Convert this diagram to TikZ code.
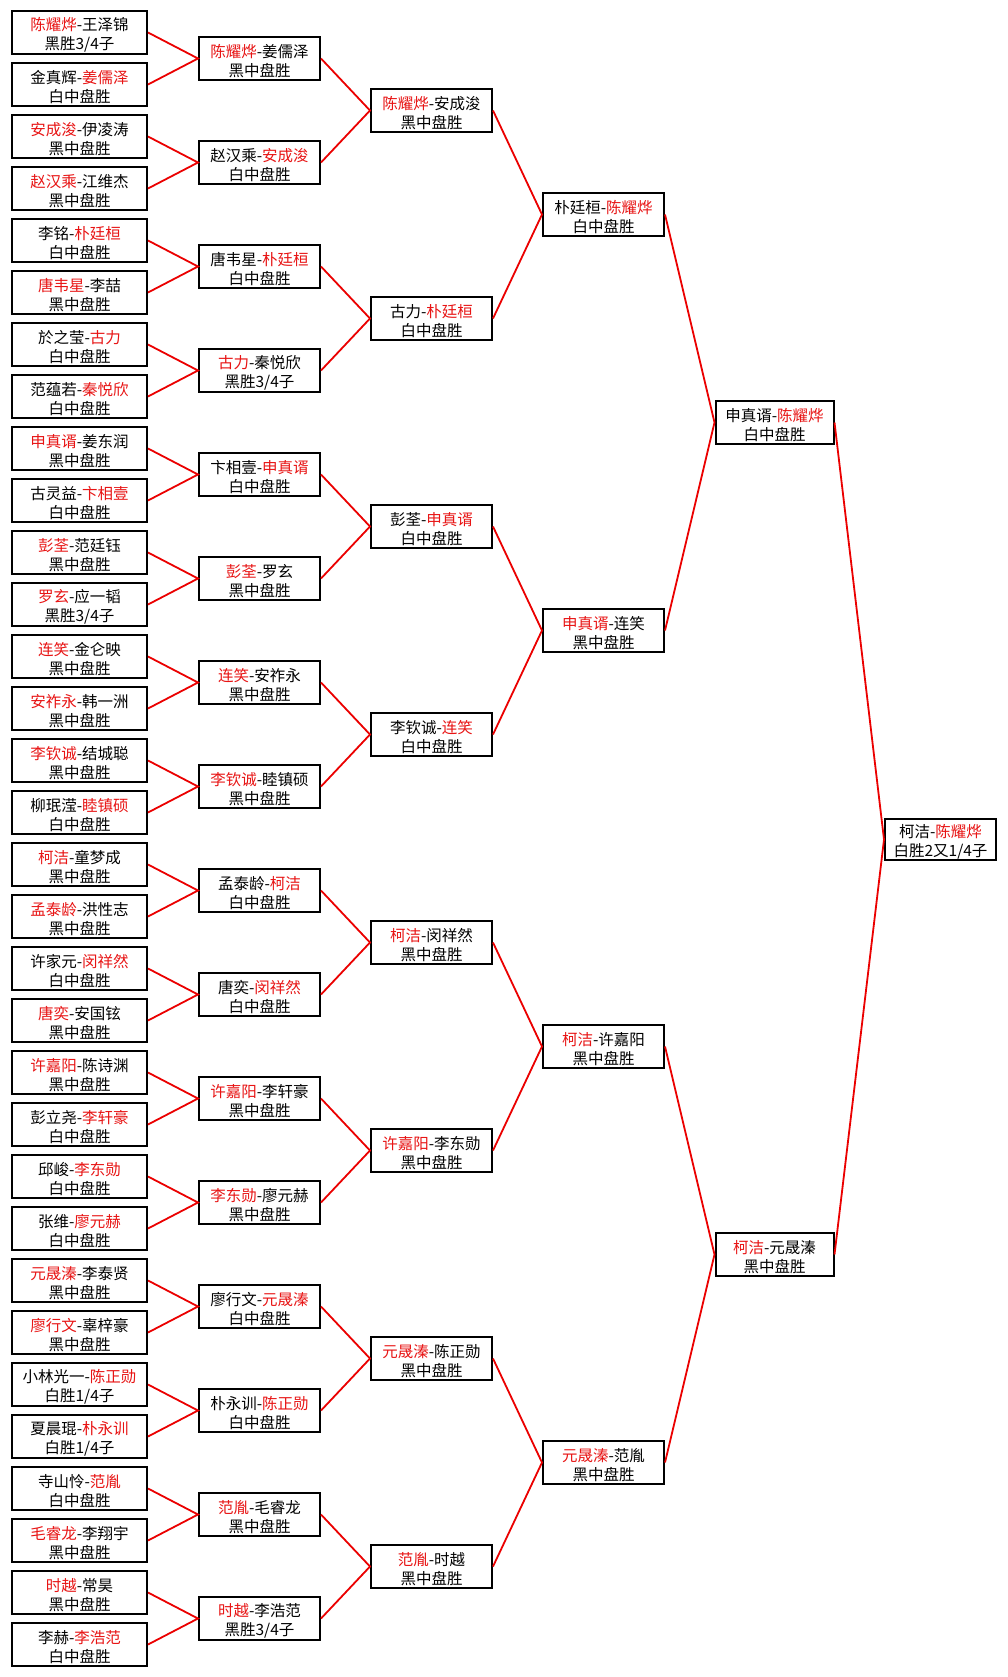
\documentclass[tikz,border=0pt]{standalone}
\usepackage{fontspec}
\setmainfont{Noto Sans CJK SC}
\definecolor{wred}{RGB}{232,20,20}
\definecolor{lred}{RGB}{235,0,0}
\newcommand\rd[1]{\textcolor{wred}{#1}}
\newcommand\bx[6]{\node[#2] (#1) at (#3,#4) {\rule{0pt}{18.5pt}#5\\#6};}
\tikzset{
  box/.style={draw=black, line width=2pt, fill=white, inner sep=0pt,
    minimum height=43pt, align=center, font=\fontsize{15.5}{19}\selectfont},
  ra/.style={box, minimum width=135pt},
  rb/.style={box, minimum width=121pt},
  rc/.style={box, minimum width=118pt},
  rf/.style={box, minimum width=111pt, minimum height=41pt},
  link/.style={draw=lred, line width=1.8pt}
}
\begin{document}
\begin{tikzpicture}[x=1pt,y=-1pt]
\path[use as bounding box, fill=white] (0,0) rectangle (1007,1677);
% Round 1
\bx{a1}{ra}{79.5}{32.5}{\rd{陈耀烨}-王泽锦}{黑胜3/4子}
\bx{a2}{ra}{79.5}{84.5}{金真辉-\rd{姜儒泽}}{白中盘胜}
\bx{a3}{ra}{79.5}{136.5}{\rd{安成浚}-伊凌涛}{黑中盘胜}
\bx{a4}{ra}{79.5}{188.5}{\rd{赵汉乘}-江维杰}{黑中盘胜}
\bx{a5}{ra}{79.5}{240.5}{李铭-\rd{朴廷桓}}{白中盘胜}
\bx{a6}{ra}{79.5}{292.5}{\rd{唐韦星}-李喆}{黑中盘胜}
\bx{a7}{ra}{79.5}{344.5}{於之莹-\rd{古力}}{白中盘胜}
\bx{a8}{ra}{79.5}{396.5}{范蕴若-\rd{秦悦欣}}{白中盘胜}
\bx{a9}{ra}{79.5}{448.5}{\rd{申真谞}-姜东润}{黑中盘胜}
\bx{a10}{ra}{79.5}{500.5}{古灵益-\rd{卞相壹}}{白中盘胜}
\bx{a11}{ra}{79.5}{552.5}{\rd{彭荃}-范廷钰}{黑中盘胜}
\bx{a12}{ra}{79.5}{604.5}{\rd{罗玄}-应一韬}{黑胜3/4子}
\bx{a13}{ra}{79.5}{656.5}{\rd{连笑}-金仑映}{黑中盘胜}
\bx{a14}{ra}{79.5}{708.5}{\rd{安祚永}-韩一洲}{黑中盘胜}
\bx{a15}{ra}{79.5}{760.5}{\rd{李钦诚}-结城聪}{黑中盘胜}
\bx{a16}{ra}{79.5}{812.5}{柳珉滢-\rd{睦镇硕}}{白中盘胜}
\bx{a17}{ra}{79.5}{864.5}{\rd{柯洁}-童梦成}{黑中盘胜}
\bx{a18}{ra}{79.5}{916.5}{\rd{孟泰龄}-洪性志}{黑中盘胜}
\bx{a19}{ra}{79.5}{968.5}{许家元-\rd{闵祥然}}{白中盘胜}
\bx{a20}{ra}{79.5}{1020.5}{\rd{唐奕}-安国铉}{黑中盘胜}
\bx{a21}{ra}{79.5}{1072.5}{\rd{许嘉阳}-陈诗渊}{黑中盘胜}
\bx{a22}{ra}{79.5}{1124.5}{彭立尧-\rd{李轩豪}}{白中盘胜}
\bx{a23}{ra}{79.5}{1176.5}{邱峻-\rd{李东勋}}{白中盘胜}
\bx{a24}{ra}{79.5}{1228.5}{张维-\rd{廖元赫}}{白中盘胜}
\bx{a25}{ra}{79.5}{1280.5}{\rd{元晟溱}-李泰贤}{黑中盘胜}
\bx{a26}{ra}{79.5}{1332.5}{\rd{廖行文}-辜梓豪}{黑中盘胜}
\bx{a27}{ra}{79.5}{1384.5}{小林光一-\rd{陈正勋}}{白胜1/4子}
\bx{a28}{ra}{79.5}{1436.5}{夏晨琨-\rd{朴永训}}{白胜1/4子}
\bx{a29}{ra}{79.5}{1488.5}{寺山怜-\rd{范胤}}{白中盘胜}
\bx{a30}{ra}{79.5}{1540.5}{\rd{毛睿龙}-李翔宇}{黑中盘胜}
\bx{a31}{ra}{79.5}{1592.5}{\rd{时越}-常昊}{黑中盘胜}
\bx{a32}{ra}{79.5}{1644.5}{李赫-\rd{李浩范}}{白中盘胜}
% Round 2
\bx{b1}{rb}{259.5}{58.5}{\rd{陈耀烨}-姜儒泽}{黑中盘胜}
\bx{b2}{rb}{259.5}{162.5}{赵汉乘-\rd{安成浚}}{白中盘胜}
\bx{b3}{rb}{259.5}{266.5}{唐韦星-\rd{朴廷桓}}{白中盘胜}
\bx{b4}{rb}{259.5}{370.5}{\rd{古力}-秦悦欣}{黑胜3/4子}
\bx{b5}{rb}{259.5}{474.5}{卞相壹-\rd{申真谞}}{白中盘胜}
\bx{b6}{rb}{259.5}{578.5}{\rd{彭荃}-罗玄}{黑中盘胜}
\bx{b7}{rb}{259.5}{682.5}{\rd{连笑}-安祚永}{黑中盘胜}
\bx{b8}{rb}{259.5}{786.5}{\rd{李钦诚}-睦镇硕}{黑中盘胜}
\bx{b9}{rb}{259.5}{890.5}{孟泰龄-\rd{柯洁}}{白中盘胜}
\bx{b10}{rb}{259.5}{994.5}{唐奕-\rd{闵祥然}}{白中盘胜}
\bx{b11}{rb}{259.5}{1098.5}{\rd{许嘉阳}-李轩豪}{黑中盘胜}
\bx{b12}{rb}{259.5}{1202.5}{\rd{李东勋}-廖元赫}{黑中盘胜}
\bx{b13}{rb}{259.5}{1306.5}{廖行文-\rd{元晟溱}}{白中盘胜}
\bx{b14}{rb}{259.5}{1410.5}{朴永训-\rd{陈正勋}}{白中盘胜}
\bx{b15}{rb}{259.5}{1514.5}{\rd{范胤}-毛睿龙}{黑中盘胜}
\bx{b16}{rb}{259.5}{1618.5}{\rd{时越}-李浩范}{黑胜3/4子}
% Round 3
\bx{c1}{rb}{431.5}{110.5}{\rd{陈耀烨}-安成浚}{黑中盘胜}
\bx{c2}{rb}{431.5}{318.5}{古力-\rd{朴廷桓}}{白中盘胜}
\bx{c3}{rb}{431.5}{526.5}{彭荃-\rd{申真谞}}{白中盘胜}
\bx{c4}{rb}{431.5}{734.5}{李钦诚-\rd{连笑}}{白中盘胜}
\bx{c5}{rb}{431.5}{942.5}{\rd{柯洁}-闵祥然}{黑中盘胜}
\bx{c6}{rb}{431.5}{1150.5}{\rd{许嘉阳}-李东勋}{黑中盘胜}
\bx{c7}{rb}{431.5}{1358.5}{\rd{元晟溱}-陈正勋}{黑中盘胜}
\bx{c8}{rb}{431.5}{1566.5}{\rd{范胤}-时越}{黑中盘胜}
% Round 4
\bx{d1}{rb}{603.5}{214.5}{朴廷桓-\rd{陈耀烨}}{白中盘胜}
\bx{d2}{rb}{603.5}{630.5}{\rd{申真谞}-连笑}{黑中盘胜}
\bx{d3}{rb}{603.5}{1046.5}{\rd{柯洁}-许嘉阳}{黑中盘胜}
\bx{d4}{rb}{603.5}{1462.5}{\rd{元晟溱}-范胤}{黑中盘胜}
% Round 5
\bx{e1}{rc}{774.5}{422.5}{申真谞-\rd{陈耀烨}}{白中盘胜}
\bx{e2}{rc}{774.5}{1254.5}{\rd{柯洁}-元晟溱}{黑中盘胜}
% Final
\bx{f}{rf}{940.5}{839.5}{柯洁-\rd{陈耀烨}}{白胜2又1/4子}
% Connectors
\foreach \p/\x/\y in {b1/a1/a2,b2/a3/a4,b3/a5/a6,b4/a7/a8,b5/a9/a10,b6/a11/a12,b7/a13/a14,b8/a15/a16,
  b9/a17/a18,b10/a19/a20,b11/a21/a22,b12/a23/a24,b13/a25/a26,b14/a27/a28,b15/a29/a30,b16/a31/a32,
  c1/b1/b2,c2/b3/b4,c3/b5/b6,c4/b7/b8,c5/b9/b10,c6/b11/b12,c7/b13/b14,c8/b15/b16,
  d1/c1/c2,d2/c3/c4,d3/c5/c6,d4/c7/c8,e1/d1/d2,e2/d3/d4,f/e1/e2}{
  \draw[link] (\x.east) -- (\p.west) -- (\y.east);
}
\end{tikzpicture}
\end{document}
